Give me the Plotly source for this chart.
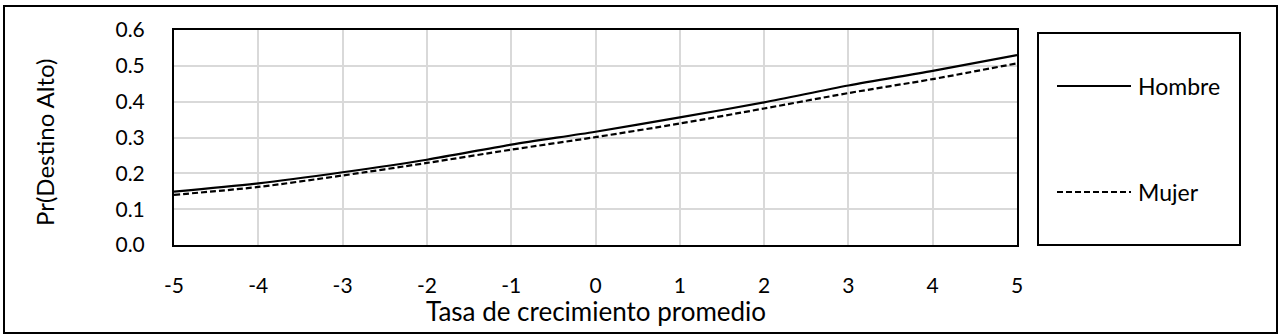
import plotly.graph_objects as go

# Data
x_vals = [-5, -4, -3, -2, -1, 0, 1, 2, 3, 4, 5]
hombre = [0.149, 0.172, 0.203, 0.238, 0.280, 0.316, 0.356, 0.398, 0.445, 0.486, 0.530]
mujer = [0.140, 0.162, 0.194, 0.229, 0.266, 0.301, 0.339, 0.381, 0.424, 0.463, 0.507]
y_ticks = [0.0, 0.1, 0.2, 0.3, 0.4, 0.5, 0.6]
y_tick_text = ["0.0", "0.1", "0.2", "0.3", "0.4", "0.5", "0.6"]
series_names = ["Hombre", "Mujer"]

FONT = "Lato"
W, H = 1280, 336
L, R, T, B = 174, 1017, 30, 245  # plot area in pixels


def px(xp):
    return (xp - L) / (R - L)


def py(yp):
    return (B - yp) / (B - T)


fig = go.Figure()
fig.add_trace(go.Scatter(x=x_vals, y=hombre, mode="lines", name=series_names[0],
                         line=dict(color="black", width=2.2, dash="solid", shape="spline", smoothing=0.8),
                         showlegend=False))
fig.add_trace(go.Scatter(x=x_vals, y=mujer, mode="lines", name=series_names[1],
                         line=dict(color="black", width=2.2, dash="6px,3px", shape="spline", smoothing=0.8),
                         showlegend=False))

shapes = [
    # outer chart border
    dict(type="rect", xref="paper", yref="paper", x0=px(4), x1=px(1277), y0=py(333), y1=py(6),
         line=dict(color="black", width=2), layer="below"),
    # legend box
    dict(type="rect", xref="paper", yref="paper", x0=px(1038), x1=px(1240), y0=py(245), y1=py(33),
         line=dict(color="black", width=2)),
    # legend line samples
    dict(type="line", xref="paper", yref="paper", x0=px(1057), x1=px(1131), y0=py(86), y1=py(86),
         line=dict(color="black", width=2, dash="solid")),
    dict(type="line", xref="paper", yref="paper", x0=px(1057), x1=px(1131), y0=py(192), y1=py(192),
         line=dict(color="black", width=2, dash="6px,3px")),
]

annotations = [
    dict(text=series_names[0], xref="paper", yref="paper", x=px(1136), y=py(86),
         xanchor="left", yanchor="middle", showarrow=False, font=dict(family=FONT, size=23, color="black")),
    dict(text=series_names[1], xref="paper", yref="paper", x=px(1136), y=py(192),
         xanchor="left", yanchor="middle", showarrow=False, font=dict(family=FONT, size=23, color="black")),
    dict(text="Tasa de crecimiento promedio", xref="paper", yref="paper", x=0.5, y=py(311),
         xanchor="center", yanchor="middle", showarrow=False, font=dict(family=FONT, size=26, color="black")),
    dict(text="Pr(Destino Alto)", xref="paper", yref="paper", x=px(44), y=py(143), textangle=-90,
         xanchor="center", yanchor="middle", showarrow=False, font=dict(family=FONT, size=24, color="black")),
]

fig.update_layout(
    width=W, height=H,
    margin=dict(l=L, r=W - R, t=T, b=H - B, pad=0),
    paper_bgcolor="white", plot_bgcolor="white",
    font=dict(family=FONT, size=21, color="black"),
    shapes=shapes, annotations=annotations,
    xaxis=dict(range=[-5, 5], tickmode="array", tickvals=x_vals, ticktext=[str(v) for v in x_vals],
               showgrid=True, gridcolor="#d9d9d9", gridwidth=1.5, zeroline=False,
               showline=True, linecolor="black", linewidth=2, mirror=True,
               ticks="", ticklabelstandoff=21, tickfont=dict(family=FONT, size=21, color="black")),
    yaxis=dict(range=[0, 0.6], tickmode="array", tickvals=y_ticks, ticktext=y_tick_text,
               showgrid=True, gridcolor="#d9d9d9", gridwidth=1.5, zeroline=False,
               showline=True, linecolor="black", linewidth=2, mirror=True,
               ticks="", ticklabelstandoff=23, tickfont=dict(family=FONT, size=21, color="black")),
)

fig.write_html("out.html", config={"displayModeBar": False},
               post_script="document.body.style.margin='0px';")
